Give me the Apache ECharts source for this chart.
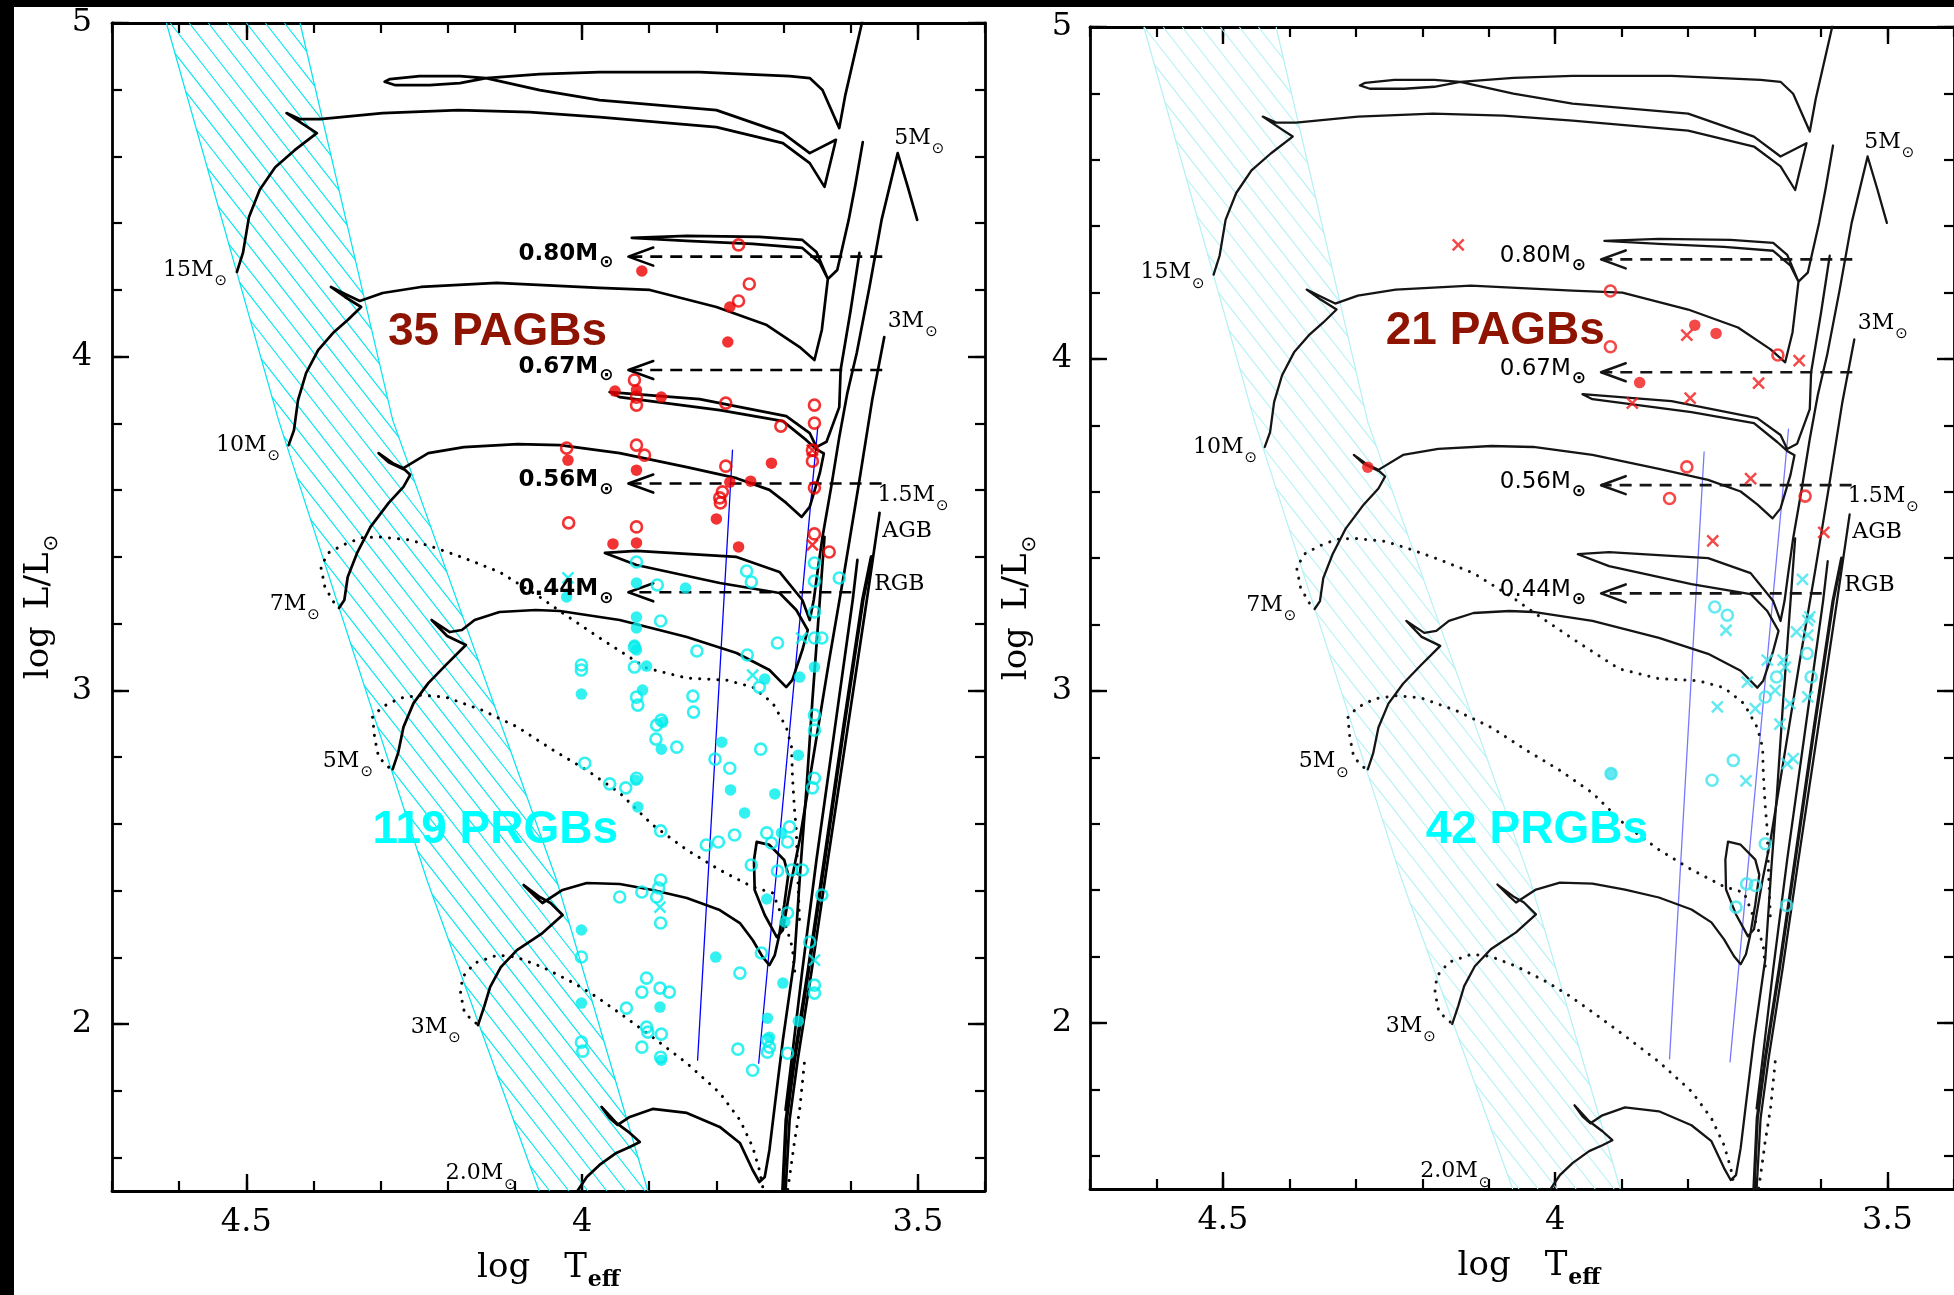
<!DOCTYPE html>
<html>
<head>
<meta charset="utf-8">
<title>HR diagram – post-AGB and post-RGB candidates</title>
<script src="https://cdn.jsdelivr.net/npm/echarts@6/dist/echarts.min.js"></script>
<style>
  html, body { margin: 0; padding: 0; background: #ffffff; }
  #chart { width: 1954px; height: 1295px; }
</style>
</head>
<body>
<div id="chart"></div>
<script>
// ---------------- axis ranges and ticks ----------------
const X_MIN = 3.4, X_MAX = 4.7;          // log Teff (drawn hot -> cool, left -> right)
const Y_MIN = 1.5, Y_MAX = 5.0;          // log L/Lsun
const X_TICK_VALUES = [4.5, 4.0, 3.5];
const X_TICK_LABELS = ['4.5', '4', '3.5'];
const X_MINOR_TICKS = [3.4, 3.5, 3.6, 3.7, 3.8, 3.9, 4.0, 4.1, 4.2, 4.3, 4.4, 4.5, 4.6, 4.7];
const Y_TICK_VALUES = [2, 3, 4, 5];
const Y_TICK_LABELS = ['2', '3', '4', '5'];
const Y_MINOR_TICKS = [1.6, 1.8, 2.0, 2.2, 2.4, 2.6, 2.8, 3.0, 3.2, 3.4, 3.6, 3.8, 4.0, 4.2, 4.4, 4.6, 4.8, 5.0];

// ---------------- evolutionary tracks [logTeff, logL] ----------------
const TRACK_15 = [[4.514,4.254],[4.505,4.311],[4.496,4.419],[4.480,4.500],[4.457,4.568],[4.428,4.619],[4.395,4.670],[4.420,4.703],[4.440,4.730],[4.420,4.712],[4.390,4.712],[4.297,4.730],[4.184,4.739],[4.078,4.733],[3.974,4.718],[3.800,4.688],[3.701,4.640],[3.661,4.580],[3.639,4.509],[3.628,4.600],[3.622,4.650],[3.661,4.610],[3.701,4.670],[3.800,4.739],[3.974,4.769],[4.063,4.799],[4.143,4.835],[4.182,4.841],[4.242,4.841],[4.286,4.832],[4.294,4.824],[4.279,4.814],[4.227,4.814],[4.182,4.820],[4.143,4.835],[4.063,4.847],[3.974,4.853],[3.825,4.853],[3.691,4.841],[3.661,4.835],[3.642,4.799],[3.617,4.685],[3.608,4.784],[3.584,4.994],[3.578,5.06]];
const TRACK_10 = [[4.437,3.735],[4.429,3.780],[4.423,3.870],[4.411,3.951],[4.393,4.020],[4.371,4.071],[4.349,4.110],[4.329,4.149],[4.353,4.179],[4.374,4.209],[4.353,4.188],[4.331,4.167],[4.297,4.191],[4.240,4.209],[4.127,4.221],[3.974,4.206],[3.899,4.200],[3.800,4.149],[3.725,4.095],[3.676,4.029],[3.654,3.990],[3.643,4.080],[3.634,4.233],[3.646,4.281],[3.672,4.326],[3.746,4.338],[3.844,4.347],[3.926,4.356],[3.844,4.362],[3.736,4.359],[3.672,4.350],[3.651,4.314],[3.634,4.233],[3.620,4.260],[3.603,4.410],[3.593,4.515],[3.582,4.643]];
const TRACK_7 = [[4.362,3.247],[4.354,3.271],[4.349,3.340],[4.335,3.412],[4.315,3.490],[4.288,3.562],[4.266,3.610],[4.256,3.646],[4.264,3.661],[4.288,3.684],[4.303,3.711],[4.282,3.681],[4.266,3.666],[4.229,3.711],[4.176,3.729],[4.096,3.738],[4.033,3.735],[3.944,3.711],[3.844,3.669],[3.770,3.636],[3.721,3.601],[3.696,3.562],[3.673,3.520],[3.661,3.550],[3.646,3.651],[3.640,3.710],[3.651,3.723],[3.666,3.750],[3.701,3.807],[3.795,3.840],[3.944,3.879],[3.959,3.894],[3.825,3.873],[3.696,3.822],[3.661,3.771],[3.651,3.729],[3.636,3.745],[3.617,3.849],[3.615,3.960],[3.600,4.140],[3.587,4.311]];
const TRACK_5 = [[4.282,2.764],[4.274,2.812],[4.266,2.890],[4.251,2.962],[4.229,3.022],[4.203,3.076],[4.173,3.136],[4.201,3.163],[4.224,3.211],[4.197,3.175],[4.179,3.181],[4.160,3.211],[4.123,3.235],[4.069,3.241],[4.033,3.238],[3.944,3.211],[3.844,3.160],[3.770,3.112],[3.721,3.061],[3.696,3.010],[3.687,3.031],[3.672,3.121],[3.664,3.181],[3.681,3.241],[3.706,3.292],[3.795,3.322],[3.919,3.376],[3.966,3.412],[3.919,3.418],[3.770,3.400],[3.706,3.355],[3.672,3.271],[3.661,3.211],[3.655,3.271],[3.649,3.361],[3.642,3.460],[3.629,3.610],[3.617,3.759],[3.605,3.891],[3.591,4.011],[3.572,4.209],[3.554,4.410],[3.530,4.610],[3.515,4.509],[3.501,4.410]];
const TRACK_3 = [[4.155,1.997],[4.146,2.051],[4.137,2.111],[4.121,2.171],[4.097,2.222],[4.059,2.273],[4.029,2.327],[4.047,2.363],[4.063,2.381],[4.087,2.417],[4.069,2.381],[4.059,2.363],[4.029,2.402],[3.993,2.423],[3.944,2.420],[3.895,2.402],[3.844,2.378],[3.795,2.342],[3.765,2.303],[3.746,2.252],[3.731,2.201],[3.721,2.177],[3.713,2.207],[3.707,2.261],[3.699,2.357],[3.693,2.447],[3.699,2.492],[3.721,2.537],[3.740,2.546],[3.744,2.492],[3.743,2.402],[3.728,2.327],[3.710,2.261],[3.701,2.282],[3.688,2.432],[3.676,2.552],[3.654,2.821],[3.632,3.091],[3.609,3.361],[3.587,3.630],[3.568,3.870],[3.550,4.059]];
const TRACK_2 = [[4.007,1.500],[3.993,1.542],[3.974,1.578],[3.949,1.614],[3.929,1.632],[3.914,1.647],[3.929,1.674],[3.949,1.704],[3.971,1.752],[3.959,1.719],[3.947,1.698],[3.929,1.722],[3.895,1.746],[3.844,1.734],[3.795,1.692],[3.765,1.644],[3.746,1.563],[3.736,1.527],[3.728,1.542],[3.721,1.623],[3.712,1.773],[3.701,1.952],[3.684,2.192],[3.675,2.462],[3.666,2.702],[3.657,2.971],[3.639,3.460]];
const AGB_LINE = [[3.557,3.532],[3.576,3.271],[3.605,2.881],[3.634,2.492],[3.658,2.162],[3.679,1.892],[3.691,1.713],[3.697,1.500]];
const RGB_LINE = [[3.569,3.400],[3.582,3.271],[3.611,2.881],[3.639,2.492],[3.663,2.162],[3.684,1.892],[3.696,1.713],[3.701,1.500]];
const RGB_INNER = [[3.590,3.391],[3.597,3.271],[3.624,2.881],[3.651,2.492],[3.672,2.162],[3.688,1.892],[3.697,1.743]];

// dotted loci
const DOTTED_7 = [[4.370,3.265],[4.383,3.310],[4.389,3.370],[4.378,3.412],[4.356,3.436],[4.329,3.457],[4.303,3.460],[4.256,3.451],[4.218,3.427],[4.176,3.397],[4.123,3.355],[4.063,3.280],[4.029,3.232],[3.969,3.151],[3.904,3.067],[3.844,3.037],[3.785,3.031],[3.746,3.010],[3.716,2.962],[3.696,2.890],[3.688,2.830],[3.687,2.752],[3.684,2.651],[3.681,2.582],[3.679,2.450],[3.676,2.300]];
const DOTTED_5 = [[4.288,2.770],[4.303,2.800],[4.309,2.860],[4.312,2.920],[4.298,2.950],[4.271,2.977],[4.240,2.986],[4.203,2.980],[4.149,2.941],[4.096,2.890],[4.043,2.821],[3.993,2.761],[3.944,2.693],[3.895,2.597],[3.844,2.522],[3.795,2.462],[3.746,2.411],[3.716,2.393],[3.696,2.291],[3.687,2.231],[3.683,2.150]];
const DOTTED_3 = [[4.158,2.003],[4.175,2.033],[4.181,2.093],[4.178,2.141],[4.160,2.183],[4.126,2.207],[4.098,2.201],[4.059,2.171],[4.012,2.123],[3.978,2.081],[3.944,2.033],[3.895,1.961],[3.844,1.883],[3.795,1.794],[3.765,1.713],[3.746,1.632],[3.736,1.563],[3.731,1.512]];
const DOTTED_RGB = [[3.669,1.883],[3.676,1.743],[3.684,1.644],[3.691,1.542],[3.694,1.500]];

// thin blue reference lines
const BLUE_LINE_A = [[3.776,3.720],[3.828,1.892]];
const BLUE_LINE_B = [[3.649,3.789],[3.737,1.883]];

// hatched instability band edges (top -> bottom)
const BAND_LEFT = [[4.619,5.0],[4.452,3.81],[4.231,2.432],[4.064,1.5]];
const BAND_RIGHT = [[4.420,5.0],[4.282,3.81],[4.038,2.432],[3.902,1.5]];

// core-mass luminosity levels
const CORE_MASS = ['0.80', '0.67', '0.56', '0.44'];
const CORE_LOGL = [4.300, 3.960, 3.620, 3.294];
const CORE_END = [3.553, 3.553, 3.554, 3.599];
const CORE_TIP = 3.931;
const ARROW_DX = 0.037, ARROW_DY = 0.027;

// ---------------- object samples ----------------
const PAGB_OPEN_L = [[3.767,4.335],[3.751,4.218],[3.767,4.167],[3.922,3.930],[3.919,3.879],[3.919,3.855],[3.786,3.861],[3.654,3.855],[3.654,3.801],[3.704,3.792],[3.657,3.720],[3.657,3.687],[4.023,3.726],[3.919,3.735],[3.907,3.705],[3.786,3.672],[3.791,3.595],[3.795,3.577],[3.794,3.562],[3.654,3.607],[4.020,3.502],[3.919,3.490],[3.654,3.469],[3.632,3.415]];
const PAGB_FILLED_L = [[3.911,4.257],[3.780,4.149],[3.783,4.044],[3.951,3.897],[3.919,3.900],[3.882,3.879],[4.021,3.690],[3.919,3.660],[3.718,3.681],[3.780,3.624],[3.749,3.627],[3.800,3.514],[3.954,3.439],[3.919,3.442],[3.767,3.430]];
const PAGB_CROSS_L = [[3.657,3.436],[3.657,3.720]];
const PRGB_OPEN_L = [[3.919,3.385],[3.755,3.358],[3.748,3.325],[3.654,3.382],[3.654,3.328],[3.617,3.337],[3.888,3.316],[3.883,3.208],[3.829,3.118],[3.754,3.106],[3.709,3.142],[3.654,3.235],[3.654,3.157],[3.643,3.157],[4.001,3.076],[4.001,3.061],[3.922,3.130],[3.922,3.070],[3.919,2.980],[3.917,2.956],[3.835,2.983],[3.834,2.935],[3.889,2.896],[3.890,2.854],[3.859,2.830],[3.882,2.911],[3.734,2.824],[3.802,2.794],[3.780,2.767],[3.736,3.010],[3.654,2.926],[3.654,2.881],[3.996,2.782],[3.919,2.737],[3.959,2.720],[3.935,2.708],[3.654,2.737],[3.657,2.708],[3.883,2.579],[3.815,2.537],[3.797,2.546],[3.773,2.567],[3.725,2.573],[3.718,2.543],[3.691,2.591],[3.694,2.546],[3.748,2.477],[3.709,2.459],[3.688,2.462],[3.672,2.462],[3.944,2.381],[3.911,2.396],[3.889,2.381],[3.883,2.432],[3.886,2.408],[3.643,2.387],[3.883,2.303],[4.001,2.201],[3.765,2.153],[3.904,2.138],[3.911,2.096],[3.884,2.108],[3.870,2.096],[3.934,2.048],[3.904,1.991],[3.902,1.976],[3.882,1.970],[3.911,1.931],[3.883,1.901],[4.001,1.946],[3.999,1.919],[3.768,1.925],[3.746,1.862],[3.733,2.213],[3.694,2.333],[3.661,2.246],[3.654,2.117],[3.654,2.093],[3.724,1.952],[3.724,1.916],[3.721,1.931],[3.694,1.913]];
const PRGB_FILLED_L = [[3.919,3.322],[3.846,3.307],[4.023,3.280],[3.919,3.220],[3.919,3.187],[3.922,3.136],[3.919,3.121],[3.904,3.073],[3.910,3.001],[4.001,2.989],[3.880,2.905],[3.882,2.824],[3.728,3.034],[3.654,3.070],[3.676,3.040],[3.792,2.845],[3.678,2.806],[3.779,2.702],[3.713,2.690],[3.758,2.633],[3.920,2.731],[3.917,2.651],[3.703,2.573],[3.725,2.375],[4.001,2.282],[4.001,2.063],[3.801,2.201],[3.884,2.051],[3.882,1.892],[3.701,2.123],[3.724,2.018],[3.721,1.961],[3.678,2.009],[3.698,2.306]];
const PRGB_CROSS_L = [[4.021,3.337],[3.746,3.046],[3.673,3.157],[3.884,2.351],[3.654,2.192]];

const PAGB_OPEN_R = [[3.917,4.205],[3.917,4.037],[3.665,4.012],[3.802,3.675],[3.828,3.580],[3.624,3.587]];
const PAGB_FILLED_R = [[3.873,3.929],[3.790,4.102],[3.758,4.077],[4.282,3.674]];
const PAGB_CROSS_R = [[4.146,4.344],[3.884,3.867],[3.802,4.072],[3.633,3.995],[3.694,3.927],[3.797,3.882],[3.706,3.640],[3.763,3.452],[3.596,3.478]];
const PRGB_OPEN_R = [[3.760,3.253],[3.741,3.228],[3.621,3.113],[3.667,3.042],[3.615,3.042],[3.684,2.982],[3.732,2.791],[3.764,2.731],[3.684,2.540],[3.712,2.419],[3.699,2.414],[3.728,2.349],[3.652,2.354],[3.916,2.751]];
const PRGB_FILLED_R = [[3.916,2.751]];
const PRGB_CROSS_R = [[3.628,3.336],[3.617,3.223],[3.743,3.183],[3.620,3.213],[3.620,3.168],[3.637,3.178],[3.681,3.093],[3.657,3.093],[3.654,3.072],[3.669,3.002],[3.711,3.027],[3.699,2.947],[3.756,2.952],[3.647,2.962],[3.620,2.982],[3.662,2.900],[3.651,2.781],[3.642,2.796],[3.713,2.729]];

// ---------------- text annotations [logTeff, logL, text, subscript] ----------------
const MASS_LABELS = [
  [4.624, 4.260, '15M', '\u2299'], [4.545, 3.735, '10M', '\u2299'], [4.465, 3.259, '7M', '\u2299'],
  [4.386, 2.787, '5M', '\u2299'], [4.255, 1.990, '3M', '\u2299'], [4.203, 1.552, '2.0M', '\u2299'],
  [3.535, 4.654, '5M', '\u2299'], [3.545, 4.107, '3M', '\u2299'], [3.560, 3.586, '1.5M', '\u2299'],
  [3.553, 3.478, 'AGB', ''], [3.565, 3.319, 'RGB', '']
];
const PAGB_COUNT_L = [[4.289, 4.073, '35 PAGBs', '']];
const PRGB_COUNT_L = [[4.312, 2.580, '119 PRGBs', '']];
const PAGB_COUNT_R = [[4.255, 4.083, '21 PAGBs', '']];
const PRGB_COUNT_R = [[4.195, 2.579, '42 PRGBs', '']];

// ---------------- layout and styles ----------------
const PANELS = [
  { grid: { left: 112, top: 23, width: 873, height: 1168 },
    hatch: '#00e5ee', blue: '#0000ff', track: '#000000', trackW: 2.7, red: '#ee0000', cyan: '#00eeee',
    coreWeight: 'bold', pagbCount: PAGB_COUNT_L, prgbCount: PRGB_COUNT_L,
    pagb: [PAGB_OPEN_L, PAGB_FILLED_L, PAGB_CROSS_L], prgb: [PRGB_OPEN_L, PRGB_FILLED_L, PRGB_CROSS_L] },
  { grid: { left: 1090, top: 27, width: 878, height: 1162 },
    hatch: '#b4f1f5', blue: '#7878ff', track: '#151515', trackW: 2.3, red: '#f01c1c', cyan: '#3ee4ee',
    coreWeight: 'normal', pagbCount: PAGB_COUNT_R, prgbCount: PRGB_COUNT_R,
    pagb: [PAGB_OPEN_R, PAGB_FILLED_R, PAGB_CROSS_R], prgb: [PRGB_OPEN_R, PRGB_FILLED_R, PRGB_CROSS_R] }
];
const SERIF = 'DejaVu Serif';
const SANS = 'DejaVu Sans';
const HATCH_ANGLE = 52;   // degrees below horizontal
const HATCH_STEP = 15;    // px between hatch lines
const CROSS_PATH = 'path://M0 0L10 10M10 0L0 10';

// ---------------- helpers ----------------
const measureCtx = document.createElement('canvas').getContext('2d');
function textWidth(str, size, family, weight) {
  measureCtx.font = (weight || 'normal') + ' ' + size + 'px ' + family;
  return measureCtx.measureText(str).width;
}
// main text with an optional lowered subscript, vertically centred on y
function textWithSub(x, y, main, sub, s) {
  const gap = s.gap == null ? 1 : s.gap;
  const w1 = textWidth(main, s.size, s.family, s.weight);
  const w2 = sub ? textWidth(sub, s.subSize, s.subFamily, s.subWeight) : 0;
  const total = w1 + (sub ? gap + w2 : 0);
  let x0 = x + (s.dx || 0);
  const y0 = y + (s.dy || 0);
  if (s.align === 'right') x0 -= total;
  else if (s.align === 'center') x0 -= total / 2;
  const kids = [{ type: 'text', x: x0, y: y0, style: { text: main, fontSize: s.size, fontFamily: s.family,
    fontWeight: s.weight || 'normal', fill: s.color, align: 'left', verticalAlign: 'middle' } }];
  if (sub) {
    kids.push({ type: 'text', x: x0 + w1 + gap, y: y0 + s.subDy, style: { text: sub, fontSize: s.subSize,
      fontFamily: s.subFamily, fontWeight: s.subWeight || 'normal', fill: s.color, align: 'left', verticalAlign: 'middle' } });
  }
  return kids;
}

function axesFor(p) {
  const xBase = { type: 'value', gridIndex: p, min: X_MIN, max: X_MAX, inverse: true, offset: 0,
    splitLine: { show: false }, axisPointer: { show: false } };
  const yBase = { type: 'value', gridIndex: p, min: Y_MIN, max: Y_MAX, offset: 0,
    splitLine: { show: false }, axisPointer: { show: false } };
  const line = { show: true, onZero: false, lineStyle: { color: '#000', width: 2.8 } };
  const majorTick = vals => ({ show: true, inside: true, length: 17, customValues: vals, lineStyle: { color: '#000', width: 2.4 } });
  const minorTick = vals => ({ show: true, inside: true, length: 10, customValues: vals, lineStyle: { color: '#000', width: 2.2 } });
  const noLabel = { show: false };
  const xs = [
    Object.assign({}, xBase, { position: 'bottom', axisLine: line, axisTick: majorTick(X_TICK_VALUES),
      axisLabel: { show: true, customValues: X_TICK_VALUES, margin: 16, fontFamily: SERIF, fontSize: 32, color: '#000',
        formatter: v => { const i = X_TICK_VALUES.findIndex(t => Math.abs(t - v) < 1e-6); return i >= 0 ? X_TICK_LABELS[i] : ''; } } }),
    Object.assign({}, xBase, { position: 'bottom', axisLine: { show: false }, axisTick: minorTick(X_MINOR_TICKS), axisLabel: noLabel }),
    Object.assign({}, xBase, { position: 'top', axisLine: line, axisTick: majorTick(X_TICK_VALUES), axisLabel: noLabel }),
    Object.assign({}, xBase, { position: 'top', axisLine: { show: false }, axisTick: minorTick(X_MINOR_TICKS), axisLabel: noLabel })
  ];
  const ys = [
    Object.assign({}, yBase, { position: 'left', axisLine: line, axisTick: majorTick(Y_TICK_VALUES),
      axisLabel: { show: true, customValues: Y_TICK_VALUES, margin: p === 0 ? 20 : 18, fontFamily: SERIF, fontSize: 32, color: '#000',
        formatter: v => { const i = Y_TICK_VALUES.findIndex(t => Math.abs(t - v) < 1e-6); return i >= 0 ? Y_TICK_LABELS[i] : ''; } } }),
    Object.assign({}, yBase, { position: 'left', axisLine: { show: false }, axisTick: minorTick(Y_MINOR_TICKS), axisLabel: noLabel }),
    Object.assign({}, yBase, { position: 'right', axisLine: line, axisTick: majorTick(Y_TICK_VALUES), axisLabel: noLabel }),
    Object.assign({}, yBase, { position: 'right', axisLine: { show: false }, axisTick: minorTick(Y_MINOR_TICKS), axisLabel: noLabel })
  ];
  return { xs, ys };
}

function panelSeries(p) {
  const P = PANELS[p];
  const ax = { xAxisIndex: p * 4, yAxisIndex: p * 4 };
  const S = [];
  const lineSeries = (data, color, width, type, z, cap) => Object.assign({
    type: 'line', data: data, showSymbol: false, symbol: 'none', silent: true, clip: true, z: z,
    lineStyle: { color: color, width: width, type: type || 'solid', cap: cap || 'round', join: 'round' }
  }, ax);

  // hatched band
  S.push(Object.assign({
    type: 'custom', silent: true, z: 1, data: [[4.2, 3.0]],
    renderItem: (params, api) => {
      const L = BAND_LEFT.map(q => api.coord(q));
      const R = BAND_RIGHT.map(q => api.coord(q));
      const poly = L.concat(R.slice().reverse());
      const a = HATCH_ANGLE * Math.PI / 180;
      const d = [Math.cos(a), Math.sin(a)], n = [-Math.sin(a), Math.cos(a)];
      const proj = poly.map(q => q[0] * n[0] + q[1] * n[1]);
      const smin = Math.min.apply(null, proj), smax = Math.max.apply(null, proj);
      const kids = [];
      const st = { stroke: P.hatch, lineWidth: 1.1 };
      for (let s = Math.ceil(smin / HATCH_STEP) * HATCH_STEP; s <= smax; s += HATCH_STEP) {
        const pts = [];
        for (let i = 0; i < poly.length; i++) {
          const j = (i + 1) % poly.length;
          const pa = proj[i], pb = proj[j];
          if ((pa - s) * (pb - s) < 0) {
            const t = (s - pa) / (pb - pa);
            pts.push([poly[i][0] + t * (poly[j][0] - poly[i][0]), poly[i][1] + t * (poly[j][1] - poly[i][1])]);
          }
        }
        pts.sort((u, v) => (u[0] * d[0] + u[1] * d[1]) - (v[0] * d[0] + v[1] * d[1]));
        for (let k = 0; k + 1 < pts.length; k += 2) {
          kids.push({ type: 'line', shape: { x1: pts[k][0], y1: pts[k][1], x2: pts[k + 1][0], y2: pts[k + 1][1] }, style: st });
        }
      }
      kids.push({ type: 'polyline', shape: { points: L }, style: { stroke: P.hatch, lineWidth: 1.2, fill: null } });
      kids.push({ type: 'polyline', shape: { points: R }, style: { stroke: P.hatch, lineWidth: 1.2, fill: null } });
      return { type: 'group', children: kids };
    }
  }, ax));

  // blue reference lines
  S.push(lineSeries(BLUE_LINE_A, P.blue, 1.3, 'solid', 2));
  S.push(lineSeries(BLUE_LINE_B, P.blue, 1.3, 'solid', 2));

  // evolutionary tracks
  [TRACK_15, TRACK_10, TRACK_7, TRACK_5, TRACK_3, TRACK_2, AGB_LINE, RGB_INNER].forEach(t =>
    S.push(lineSeries(t, P.track, P.trackW, 'solid', 3)));
  S.push(lineSeries(RGB_LINE, P.track, P.trackW + 1, 'solid', 3));

  // dotted loci
  [DOTTED_7, DOTTED_5, DOTTED_3, DOTTED_RGB].forEach(t =>
    S.push(lineSeries(t, P.track, 3, [0.1, 9], 3, 'round')));

  // core-mass levels: dashed line + open arrow head
  CORE_LOGL.forEach((L, i) => {
    S.push(lineSeries([[CORE_END[i], L], [CORE_TIP, L]], P.track, 2.6, [12, 8], 3, 'butt'));
    S.push(lineSeries([[CORE_TIP - ARROW_DX, L + ARROW_DY], [CORE_TIP, L], [CORE_TIP - ARROW_DX, L - ARROW_DY]], P.track, 2.6, 'solid', 3));
  });

  // object samples
  const scatter = (data, color, kind) => {
    const base = Object.assign({ type: 'scatter', data: data, silent: true, z: 5, clip: true }, ax);
    if (kind === 'open') return Object.assign(base, { symbol: 'circle', symbolSize: 11,
      itemStyle: { color: 'rgba(0,0,0,0)', borderColor: color, borderWidth: 2.6 } });
    if (kind === 'filled') return Object.assign(base, { symbol: 'circle', symbolSize: 11.5,
      itemStyle: { color: color, borderWidth: 0 } });
    return Object.assign(base, { symbol: CROSS_PATH, symbolSize: 11,
      itemStyle: { color: 'rgba(0,0,0,0)', borderColor: color, borderWidth: 2.5 } });
  };
  S.push(scatter(P.pagb[0], P.red, 'open'));
  S.push(scatter(P.pagb[1], P.red, 'filled'));
  S.push(scatter(P.pagb[2], P.red, 'cross'));
  S.push(scatter(P.prgb[0], P.cyan, 'open'));
  S.push(scatter(P.prgb[1], P.cyan, 'filled'));
  S.push(scatter(P.prgb[2], P.cyan, 'cross'));

  // text annotations anchored in data space
  const labelSeries = (list, style) => Object.assign({
    type: 'custom', silent: true, z: 10, clip: false,
    data: list.map((l, i) => [l[0], l[1], i]),
    renderItem: (params, api) => {
      const l = list[params.dataIndex];
      const pt = api.coord([l[0], l[1]]);
      return { type: 'group', children: textWithSub(pt[0], pt[1], l[2], l[3], style) };
    }
  }, ax);

  S.push(labelSeries(MASS_LABELS, { size: 22, family: SERIF, color: '#000', align: 'left',
    subSize: 15, subFamily: SANS, subDy: 11, gap: 1 }));

  const coreList = CORE_MASS.map((m, i) => [CORE_TIP, CORE_LOGL[i], m + 'M', '\u2299']);
  S.push(labelSeries(coreList, { size: 23, family: SANS, weight: P.coreWeight, color: '#000', align: 'right',
    dx: -15, dy: -3, subSize: 17, subFamily: SANS, subWeight: 'bold', subDy: 9, gap: 1 }));

  S.push(labelSeries(P.pagbCount, { size: 46, family: 'Liberation Sans', weight: 'bold', color: '#8e1300', align: 'left' }));
  S.push(labelSeries(P.prgbCount, { size: 46, family: 'Liberation Sans', weight: 'bold', color: '#00ffff', align: 'left' }));
  return S;
}

// ---------------- assemble ----------------
const xAxes = [], yAxes = [], series = [];
PANELS.forEach((P, p) => {
  const a = axesFor(p);
  xAxes.push.apply(xAxes, a.xs);
  yAxes.push.apply(yAxes, a.ys);
  series.push.apply(series, panelSeries(p));
});

// axis titles and page frame
const graphics = [
  { type: 'rect', shape: { x: 0, y: 0, width: 1954, height: 7 }, style: { fill: '#000' }, z: 100 },
  { type: 'rect', shape: { x: 0, y: 0, width: 14, height: 1295 }, style: { fill: '#000' }, z: 100 }
];
PANELS.forEach(P => {
  const g = P.grid;
  const xs = { size: 34, family: SERIF, color: '#000', align: 'center', subSize: 22, subFamily: SERIF, subWeight: 'bold', subDy: 12, gap: 1 };
  graphics.push({ type: 'group', children: textWithSub(g.left + g.width / 2, g.top + g.height + 77, 'log\u2003T', 'eff', xs) });
  const ys = { size: 34, family: SERIF, color: '#000', align: 'center', subSize: 20, subFamily: SANS, subDy: 13, gap: 1 };
  graphics.push({ type: 'group', x: g.left - 73, y: g.top + g.height / 2, rotation: Math.PI / 2,
    children: textWithSub(0, 0, 'log\u2002L/L', '\u2299', ys) });
});

const chart = echarts.init(document.getElementById('chart'), null, { renderer: 'canvas' });
chart.setOption({
  animation: false,
  backgroundColor: '#ffffff',
  grid: PANELS.map(P => Object.assign({ containLabel: false }, P.grid)),
  xAxis: xAxes,
  yAxis: yAxes,
  series: series,
  graphic: graphics
});
</script>
</body>
</html>
